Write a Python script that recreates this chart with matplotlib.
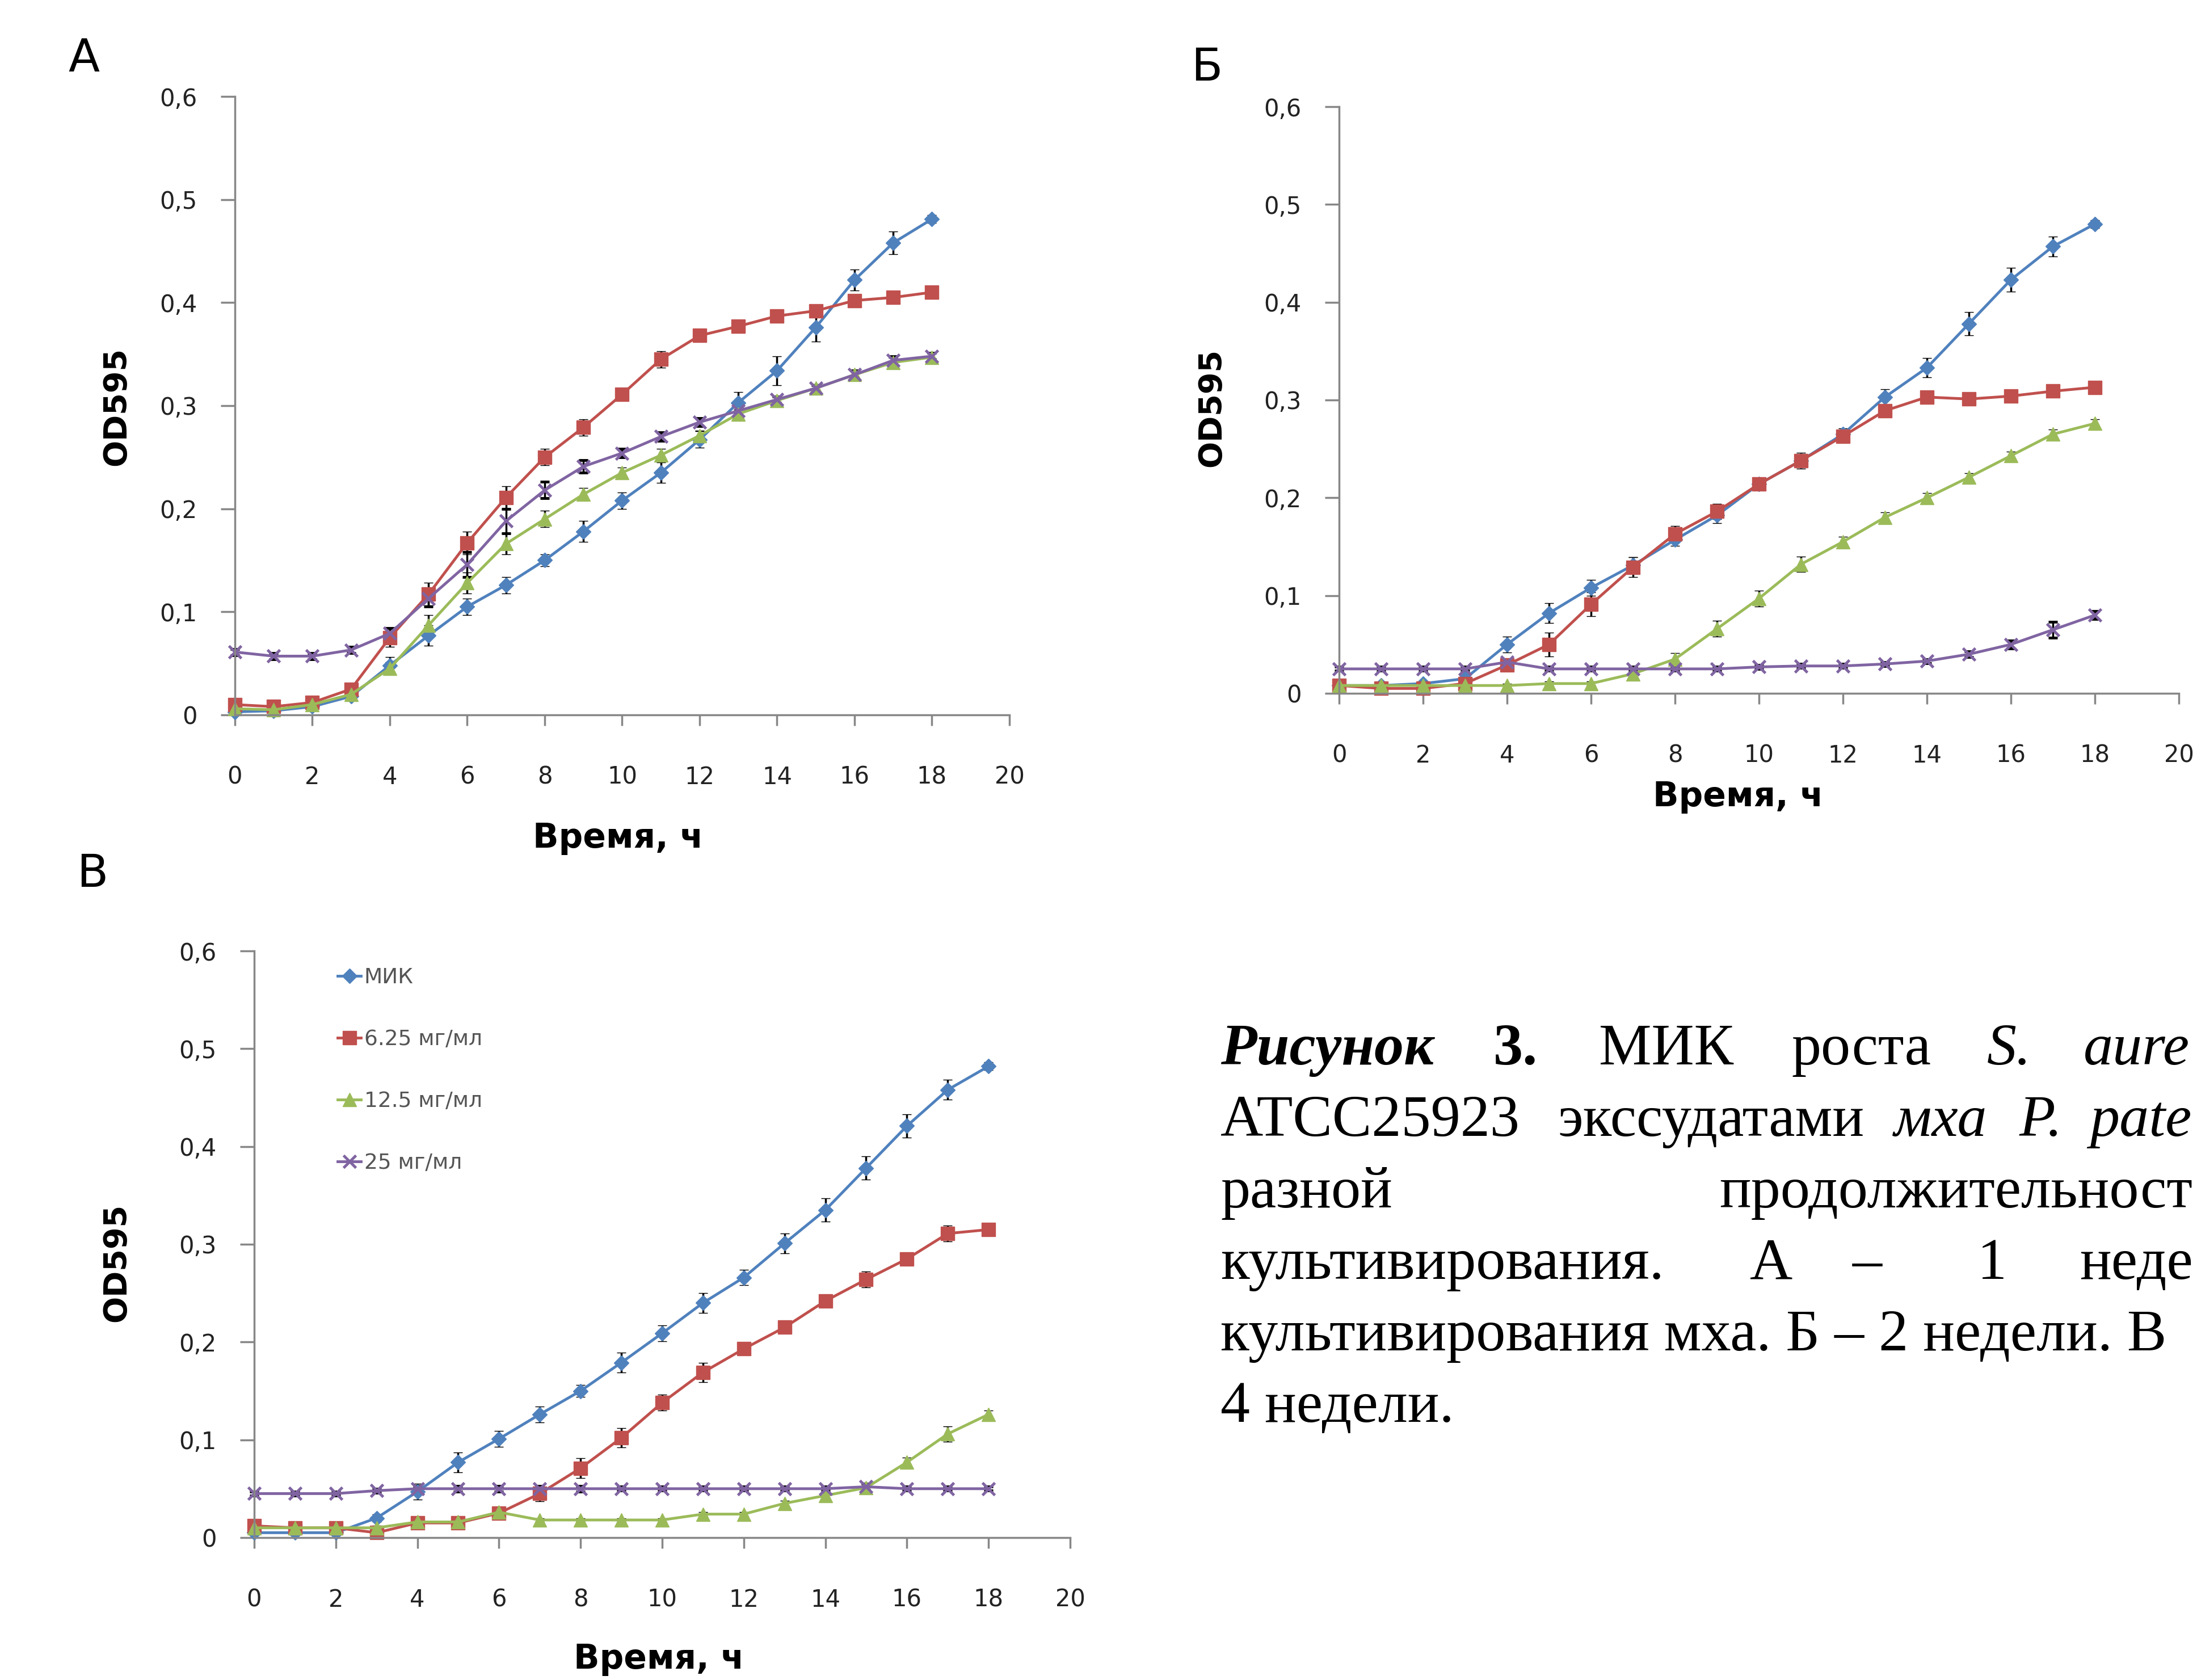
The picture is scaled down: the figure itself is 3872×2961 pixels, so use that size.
import matplotlib
matplotlib.use("Agg")
import matplotlib.pyplot as plt

# figure size in pixels of the reference
W, H = 3873, 2961
DPI = 100

hours = list(range(19))
labels = ["МИК", "6.25 мг/мл", "12.5 мг/мл", "25 мг/мл"]
colors = ["#4F81BD", "#C0504D", "#9BBB59", "#8064A2"]
markers = ["D", "s", "^", "x"]
msizes = [13, 17, 17, 16]

yticks = [0, 0.1, 0.2, 0.3, 0.4, 0.5, 0.6]
ytick_labels = ["0", "0,1", "0,2", "0,3", "0,4", "0,5", "0,6"]
xticks = list(range(0, 21, 2))

# A - 1 week
a_ctrl = [0.003, 0.004, 0.008, 0.018, 0.048, 0.077, 0.105, 0.126, 0.150, 0.178,
          0.208, 0.235, 0.267, 0.303, 0.334, 0.376, 0.422, 0.458, 0.481]
a_625 = [0.010, 0.008, 0.012, 0.025, 0.075, 0.117, 0.167, 0.211, 0.250, 0.279,
         0.311, 0.345, 0.368, 0.377, 0.387, 0.392, 0.402, 0.405, 0.410]
a_125 = [0.006, 0.005, 0.010, 0.020, 0.045, 0.087, 0.128, 0.166, 0.190, 0.214,
         0.235, 0.252, 0.271, 0.292, 0.305, 0.317, 0.330, 0.342, 0.347]
a_25 = [0.061, 0.057, 0.057, 0.063, 0.079, 0.113, 0.146, 0.188, 0.218, 0.241,
        0.254, 0.270, 0.284, 0.295, 0.306, 0.317, 0.330, 0.344, 0.348]

# Б - 2 weeks
b_ctrl = [0.008, 0.008, 0.010, 0.015, 0.050, 0.082, 0.108, 0.131, 0.157, 0.182,
          0.214, 0.238, 0.265, 0.303, 0.333, 0.378, 0.423, 0.457, 0.480]
b_625 = [0.008, 0.005, 0.005, 0.010, 0.029, 0.050, 0.091, 0.129, 0.163, 0.186,
         0.214, 0.238, 0.263, 0.289, 0.303, 0.301, 0.304, 0.309, 0.313]
b_125 = [0.008, 0.008, 0.008, 0.008, 0.008, 0.010, 0.010, 0.020, 0.035, 0.066,
         0.097, 0.132, 0.155, 0.180, 0.200, 0.221, 0.243, 0.265, 0.276]
b_25 = [0.025, 0.025, 0.025, 0.025, 0.032, 0.025, 0.025, 0.025, 0.025, 0.025,
        0.027, 0.028, 0.028, 0.030, 0.033, 0.040, 0.050, 0.065, 0.080]

# В - 4 weeks
c_ctrl = [0.005, 0.005, 0.005, 0.020, 0.047, 0.077, 0.101, 0.126, 0.150, 0.179,
          0.209, 0.240, 0.266, 0.301, 0.335, 0.378, 0.421, 0.458, 0.482]
c_625 = [0.012, 0.010, 0.010, 0.005, 0.015, 0.015, 0.025, 0.045, 0.071, 0.102,
         0.138, 0.169, 0.193, 0.215, 0.242, 0.264, 0.285, 0.311, 0.315]
c_125 = [0.010, 0.010, 0.010, 0.010, 0.016, 0.016, 0.026, 0.018, 0.018, 0.018,
         0.018, 0.024, 0.024, 0.035, 0.043, 0.051, 0.077, 0.106, 0.126]
c_25 = [0.045, 0.045, 0.045, 0.048, 0.050, 0.050, 0.050, 0.050, 0.050, 0.050,
        0.050, 0.050, 0.050, 0.050, 0.050, 0.052, 0.050, 0.050, 0.050]

# error bars (standard deviation), read from the caps
a_err = [
    [0.002, 0.002, 0.003, 0.004, 0.008, 0.010, 0.008, 0.008, 0.006, 0.010,
     0.008, 0.010, 0.008, 0.010, 0.014, 0.014, 0.010, 0.011, 0.004],
    [0.003, 0.002, 0.003, 0.005, 0.009, 0.011, 0.011, 0.011, 0.008, 0.008,
     0.006, 0.008, 0.005, 0.004, 0.004, 0.005, 0.004, 0.004, 0.005],
    [0.002, 0.002, 0.002, 0.003, 0.006, 0.010, 0.010, 0.010, 0.008, 0.006,
     0.005, 0.006, 0.005, 0.004, 0.004, 0.004, 0.004, 0.004, 0.004],
    [0.003, 0.003, 0.003, 0.003, 0.005, 0.008, 0.012, 0.012, 0.008, 0.006,
     0.004, 0.004, 0.004, 0.004, 0.003, 0.003, 0.004, 0.004, 0.003],
]
b_err = [
    [0.002, 0.002, 0.002, 0.003, 0.008, 0.010, 0.008, 0.008, 0.006, 0.008,
     0.006, 0.008, 0.006, 0.008, 0.010, 0.012, 0.012, 0.010, 0.004],
    [0.002, 0.002, 0.002, 0.003, 0.006, 0.012, 0.012, 0.010, 0.008, 0.008,
     0.006, 0.006, 0.006, 0.005, 0.004, 0.004, 0.004, 0.004, 0.004],
    [0.002, 0.002, 0.002, 0.002, 0.002, 0.002, 0.002, 0.004, 0.006, 0.008,
     0.008, 0.008, 0.005, 0.005, 0.005, 0.004, 0.004, 0.005, 0.004],
    [0.002, 0.002, 0.002, 0.002, 0.003, 0.002, 0.002, 0.002, 0.002, 0.002,
     0.002, 0.002, 0.002, 0.002, 0.002, 0.003, 0.004, 0.008, 0.004],
]
c_err = [
    [0.002, 0.002, 0.002, 0.004, 0.008, 0.010, 0.008, 0.008, 0.006, 0.010,
     0.008, 0.010, 0.008, 0.010, 0.012, 0.012, 0.012, 0.010, 0.004],
    [0.003, 0.002, 0.002, 0.002, 0.003, 0.004, 0.005, 0.008, 0.010, 0.010,
     0.008, 0.010, 0.006, 0.006, 0.006, 0.008, 0.006, 0.008, 0.006],
    [0.002, 0.002, 0.002, 0.002, 0.002, 0.002, 0.003, 0.002, 0.002, 0.002,
     0.002, 0.002, 0.002, 0.003, 0.003, 0.004, 0.005, 0.008, 0.004],
    [0.002, 0.002, 0.002, 0.002, 0.003, 0.003, 0.003, 0.003, 0.003, 0.002,
     0.002, 0.002, 0.002, 0.002, 0.002, 0.003, 0.002, 0.002, 0.002],
]

panels = [
    # name, series, errors, axes box (left, right, y0 px, y0.6 px), label pos, xlabel pos, ylabel pos
    ("А", [a_ctrl, a_625, a_125, a_25], a_err, (414, 1779, 1260, 170), (148, 104), (1089, 1478), (205, 716)),
    ("Б", [b_ctrl, b_625, b_125, b_25], b_err, (2360, 3840, 1222, 188), (2127, 120), (3063, 1405), (2135, 718)),
    ("В", [c_ctrl, c_625, c_125, c_25], c_err, (448, 1886, 2710, 1676), (163, 1541), (1161, 2925), (205, 2225)),
]

fig = plt.figure(figsize=(W / DPI, H / DPI), dpi=DPI)
fig.patch.set_facecolor("white")

axes = []
handles = []
for name, series, errs, box, lab, xl, yl in panels:
    left, right, y0, y6 = box
    ax = fig.add_axes([left / W, 1 - y0 / H, (right - left) / W, (y0 - y6) / H])
    handles = []
    for vals, err, c, m, ms in zip(series, errs, colors, markers, msizes):
        cont = ax.errorbar(hours, vals, yerr=err, color=c, marker=m, markersize=ms,
                           markeredgewidth=3.5 if m == "x" else 1, linewidth=3.5,
                           ecolor="black", elinewidth=2.5, capsize=6, capthick=2.5,
                           clip_on=False)
        handles.append(cont[0])
    ax.set_xlim(0, 20)
    ax.set_ylim(0, 0.6)
    ax.set_xticks(xticks)
    ax.set_yticks(yticks)
    ax.set_yticklabels(ytick_labels)
    for s in ["top", "right"]:
        ax.spines[s].set_visible(False)
    for s in ["left", "bottom"]:
        ax.spines[s].set_color("#878787")
        ax.spines[s].set_linewidth(2.5)
    ax.tick_params(axis="x", length=14, width=2.5, color="#878787", pad=50,
                   labelsize=30, labelcolor="#222222")
    ax.tick_params(axis="y", length=18, width=2.5, color="#878787", pad=30,
                   labelsize=30, labelcolor="#222222")
    fig.text(lab[0] / W, 1 - lab[1] / H, name, fontsize=58, ha="center", va="center")
    fig.text(xl[0] / W, 1 - xl[1] / H, "Время, ч", fontsize=43, fontweight="bold",
             ha="center", va="center")
    fig.text(yl[0] / W, 1 - yl[1] / H, "OD595", fontsize=40, fontweight="bold",
             rotation=90, ha="center", va="center")
    axes.append(ax)

# legend only in panel В, line + marker without the error bars
leg = axes[2].legend(handles, labels, loc="upper left", bbox_to_anchor=(595 / W, 1 - 1705 / H),
                     bbox_transform=fig.transFigure, frameon=False, fontsize=27,
                     labelspacing=1.95, handlelength=1.1, handletextpad=0.15,
                     borderpad=0, borderaxespad=0)
for t in leg.get_texts():
    t.set_color("#555555")

# caption, justified lines placed word by word; the right edge cuts it as in the source
serif = "Liberation Serif"
fs = 75
caption = [
    (1876, [(2151, "Рисунок", "bold", "italic"), (2632, "3.", "bold", "normal"),
            (2818, "МИК", "normal", "normal"), (3157, "роста", "normal", "normal"),
            (3502, "S.", "normal", "italic"), (3672, "aure", "normal", "italic")]),
    (2002, [(2151, "ATCC25923", "normal", "normal"), (2745, "экссудатами", "normal", "normal"),
            (3338, "мха", "normal", "italic"), (3559, "P.", "normal", "italic"),
            (3683, "pate", "normal", "italic")]),
    (2128, [(2151, "разной", "normal", "normal"), (3030, "продолжительност", "normal", "normal")]),
    (2254, [(2151, "культивирования.", "normal", "normal"), (3084, "А", "normal", "normal"),
            (3265, "–", "normal", "normal"), (3485, "1", "normal", "normal"),
            (3665, "неде", "normal", "normal")]),
    (2380, [(2151, "культивирования мха. Б – 2 недели. В", "normal", "normal")]),
    (2506, [(2151, "4 недели.", "normal", "normal")]),
]
for base, words in caption:
    for x, word, weight, style in words:
        fig.text(x / W, 1 - base / H, word, fontsize=fs, family=serif,
                 fontweight=weight, fontstyle=style, ha="left", va="baseline")

fig.savefig("out.png", dpi=DPI)
